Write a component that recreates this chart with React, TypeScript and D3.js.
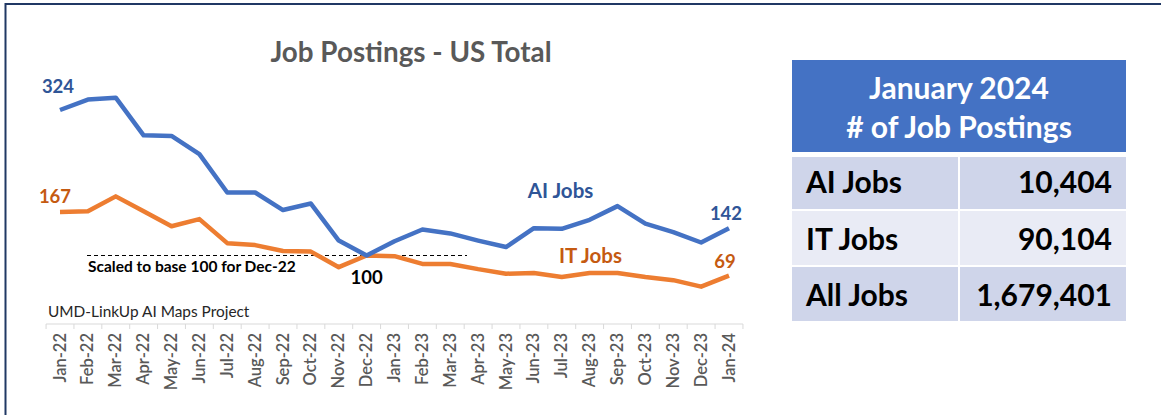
import React from "react";
import * as d3 from "d3";

const months = [
  "Jan-22","Feb-22","Mar-22","Apr-22","May-22","Jun-22","Jul-22","Aug-22","Sep-22","Oct-22","Nov-22","Dec-22",
  "Jan-23","Feb-23","Mar-23","Apr-23","May-23","Jun-23","Jul-23","Aug-23","Sep-23","Oct-23","Nov-23","Dec-23","Jan-24",
];
const aiJobs = [324,340,343,285,284,256,197,197,170,180,123,100,122,140,134,123,113,142,141,155,176,149,136,120,142];
const itJobs = [167,168,191,168,145,156,119,116,107,106,82,100,99,87,87,79,72,73,67,73,73,67,62,52,69];
const tableHeader = ["January 2024", "# of Job Postings"];
const tableLabels = ["AI Jobs", "IT Jobs", "All Jobs"];
const tableValues = ["10,404", "90,104", "1,679,401"];

const FONT = "Lato, 'Open Sans', sans-serif";

export default function App() {
  const x = d3.scalePoint<string>().domain(months).range([60, 729]);
  const y = d3.scaleLinear().domain([100, 324]).range([255.5, 110]);
  const step = x.step();
  const line = d3.line<number>().x((_, i) => x(months[i])!).y((d) => y(d));
  const last = months.length - 1;
  const boundaries = d3.range(months.length + 1).map((i) => 60 - step / 2 + i * step);
  const axisY = 324;

  const rowY = [157, 211, 267];
  const rowH = [52, 54, 54];
  const rowBase = [193, 250, 306];
  const rowFill = ["#CFD5EA", "#E9EBF5", "#CFD5EA"];

  return (
    <svg width={1161} height={415} style={{ position: "absolute", left: 0, top: 0, background: "#fff" }} fontFamily={FONT}>
      <rect x={0} y={0} width={1161} height={415} fill="#fff" />
      {/* frame */}
      <line x1={5} x2={1161} y1={4} y2={4} stroke="#203864" strokeWidth={2} />
      <line x1={5.5} x2={5.5} y1={3} y2={415} stroke="#203864" strokeWidth={2} />

      <text x={411} y={62} textAnchor="middle" fontSize={27.8} fontWeight={700} fill="#595959">
        Job Postings - US Total
      </text>

      {/* axis */}
      <line x1={boundaries[0]} x2={boundaries[boundaries.length - 1]} y1={axisY} y2={axisY} stroke="#D9D9D9" strokeWidth={1} />
      {boundaries.map((b, i) => (
        <line key={i} x1={b} x2={b} y1={axisY} y2={axisY + 5} stroke="#D9D9D9" strokeWidth={1} />
      ))}
      {months.map((m) => (
        <text key={m} transform={`translate(${x(m)! + 5.5},${axisY + 9}) rotate(-90)`} textAnchor="end"
          fontSize={16.5} fontWeight={600} fill="#595959">
          {m}
        </text>
      ))}

      {/* base line */}
      <line x1={87} x2={467} y1={y(100)} y2={y(100)} stroke="#000" strokeWidth={1} strokeDasharray="4,3" />
      <text x={88} y={272} fontSize={15.5} fontWeight={700} fill="#000">Scaled to base 100 for Dec-22</text>

      <path d={line(itJobs)!} fill="none" stroke="#ED7D31" strokeWidth={4.5} strokeLinejoin="round" />
      <path d={line(aiJobs)!} fill="none" stroke="#4472C4" strokeWidth={4.5} strokeLinejoin="round" />

      <text x={x(months[0])! - 2} y={y(aiJobs[0]) - 17} textAnchor="middle" fontSize={18.5} fontWeight={700} fill="#2F5597">{aiJobs[0]}</text>
      <text x={x(months[0])! - 5} y={y(itJobs[0]) - 9} textAnchor="middle" fontSize={18.5} fontWeight={700} fill="#C55A11">{itJobs[0]}</text>
      <text x={x(months[last])! - 3} y={y(aiJobs[last]) - 8} textAnchor="middle" fontSize={18.5} fontWeight={700} fill="#2F5597">{aiJobs[last]}</text>
      <text x={x(months[last])! - 4} y={y(itJobs[last]) - 8} textAnchor="middle" fontSize={18.5} fontWeight={700} fill="#C55A11">{itJobs[last]}</text>
      <text x={x(months[11])!} y={284} textAnchor="middle" fontSize={18.5} fontWeight={700} fill="#000">100</text>
      <text x={560.5} y={198} textAnchor="middle" fontSize={20.5} fontWeight={700} fill="#2F5597">AI Jobs</text>
      <text x={590.5} y={263} textAnchor="middle" fontSize={20.5} fontWeight={700} fill="#C55A11">IT Jobs</text>

      <text x={48} y={317} fontSize={15.4} fill="#262626">UMD-LinkUp AI Maps Project</text>

      {/* table */}
      <rect x={792} y={60} width={334} height={92} fill="#4472C4" />
      <text x={959} y={99} textAnchor="middle" fontSize={30} fontWeight={700} fill="#fff">{tableHeader[0]}</text>
      <text x={959} y={138} textAnchor="middle" fontSize={30} fontWeight={700} fill="#fff">{tableHeader[1]}</text>
      {tableLabels.map((lab, i) => (
        <g key={lab}>
          <rect x={792} y={rowY[i]} width={166} height={rowH[i]} fill={rowFill[i]} />
          <rect x={960} y={rowY[i]} width={166} height={rowH[i]} fill={rowFill[i]} />
          <text x={806} y={rowBase[i]} fontSize={30} fontWeight={700} fill="#000">{lab}</text>
          <text x={1112} y={rowBase[i]} textAnchor="end" fontSize={30} fontWeight={700} fill="#000">{tableValues[i]}</text>
        </g>
      ))}
    </svg>
  );
}
